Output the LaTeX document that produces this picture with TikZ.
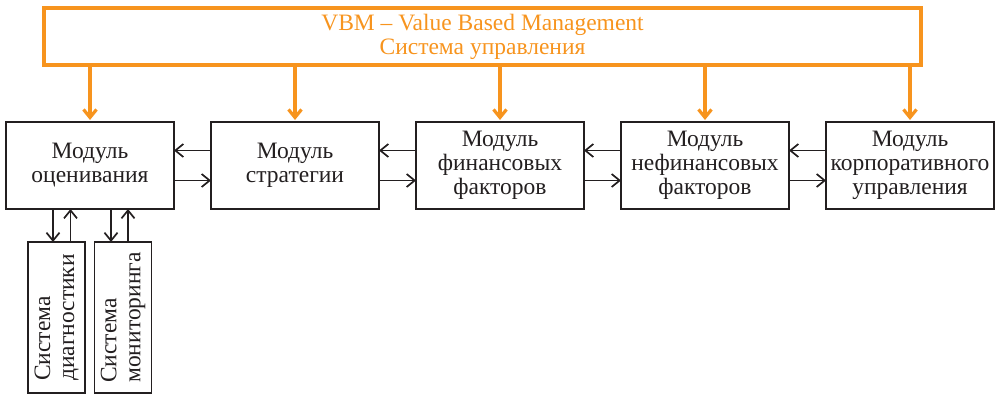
\documentclass[tikz,border=0pt]{standalone}
\usepackage{fontspec}
\setmainfont{Liberation Serif}
\usepackage{tikz}
\usetikzlibrary{positioning,arrows.meta}
\definecolor{vbmorange}{RGB}{247,148,30}
\definecolor{inkgray}{RGB}{35,31,32}

\begin{document}
\begin{tikzpicture}[x=1pt,y=-1pt,
    >={Straight Barb[length=8pt,width=13pt]},
    boxfont/.style={font=\fontsize{23.5}{24}\selectfont},
    module/.style={boxfont,draw=inkgray,text=inkgray,line width=1.8pt,outer sep=0pt,minimum width=168pt,minimum height=87pt,inner sep=1pt,align=center},
    sysbox/.style={boxfont,draw=inkgray,text=inkgray,line width=1.8pt,outer sep=0pt,minimum width=151pt,minimum height=57pt,inner sep=2pt,align=left,rotate=90},
    link/.style={->,draw=inkgray,line width=1.7pt},
    control/.style={->,draw=vbmorange,line width=3.2pt,shorten >=2pt}]
    \useasboundingbox (0,0) rectangle (1002,396);
    % top: management system
    \node (VBM) [boxfont,draw=vbmorange,line width=3.2pt,outer sep=0pt,text=vbmorange,minimum width=877pt,minimum height=57pt,inner sep=1pt,align=center] at (482.5,36.5) {VBM -- Value Based Management\\Система управления};
    % row of modules
    \node (Eval) [module] at (90,165.5) {Модуль\\оценивания};
    \node (Strat) [module,right=37pt of Eval] {Модуль\\стратегии};
    \node (Fin) [module,right=37pt of Strat] {Модуль\\финансовых\\факторов};
    \node (NonFin) [module,right=37pt of Fin] {Модуль\\нефинансовых\\факторов};
    \node (Corp) [module,right=37pt of NonFin] {Модуль\\корпоративного\\управления};
    % rotated boxes below (their east anchor is the top side)
    \node (Diag) [sysbox] at (56.5,317.5) {Система\\диагностики};
    \node (Monit) [sysbox] at (123,317.5) {Система\\мониторинга};
    \foreach \m in {Eval,Strat,Fin,NonFin,Corp}
        \draw[control] (VBM.south -| \m.north) -- (\m.north);
    \foreach \a/\b in {Eval/Strat,Strat/Fin,Fin/NonFin,NonFin/Corp}{
        \draw[link] ([yshift=15pt]\b.west) -- ([yshift=15pt]\a.east);
        \draw[link] ([yshift=-15pt]\a.east) -- ([yshift=-15pt]\b.west);
    }
    \draw[link] ([xshift=-3.5pt]Diag.east |- Eval.south) -- ([xshift=-3.5pt]Diag.east);
    \draw[link] ([xshift=14pt]Diag.east) -- ([xshift=14pt]Diag.east |- Eval.south);
    \draw[link] ([xshift=-12pt]Monit.east |- Eval.south) -- ([xshift=-12pt]Monit.east);
    \draw[link] ([xshift=5pt]Monit.east) -- ([xshift=5pt]Monit.east |- Eval.south);
\end{tikzpicture}
\end{document}
